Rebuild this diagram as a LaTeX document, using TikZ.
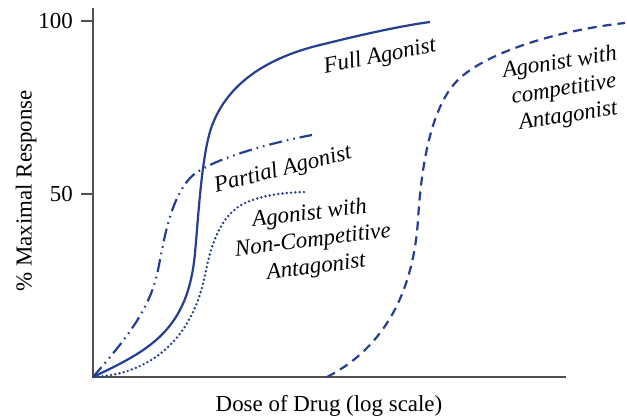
\documentclass[tikz,border=0pt]{standalone}
\usepackage{fontspec}
\setmainfont{Liberation Serif}
\begin{document}
\begin{tikzpicture}[x=1bp,y=-1bp,
  axisline/.style={draw=axisgray,line width=1.6bp},
  curve/.style={draw=curveblue,line width=2.2bp},
  fullcurve/.style={curve},
  partialcurve/.style={curve,dash pattern=on 13bp off 5bp on 1.6bp off 5bp on 1.6bp off 5bp},
  noncompcurve/.style={curve,line width=2.7bp,line cap=round,dash pattern=on 0bp off 4.3bp},
  compcurve/.style={curve,dash pattern=on 9bp off 6bp},
  curvelabel/.style={font=\fontsize{23}{27}\selectfont\itshape,align=center,inner sep=0pt},
  axislabel/.style={font=\fontsize{23}{27}\selectfont,inner sep=0pt}]
\definecolor{axisgray}{RGB}{80,80,80}
\definecolor{curveblue}{RGB}{36,62,145}
\useasboundingbox (0,0) rectangle (627,415);

% axes and ticks
\coordinate (origin) at (93,377);
\coordinate (ytop) at (93,8);
\coordinate (xend) at (566,377);
\coordinate (t100) at (93,21);
\coordinate (t100l) at (81,21);
\coordinate (t50) at (93,194);
\coordinate (t50l) at (81,194);
\draw[axisline] (ytop) -- (origin) -- (xend);
\draw[axisline] (t100l) -- (t100);
\draw[axisline] (t50l) -- (t50);
\node[axislabel,anchor=east] (l100) at (73,21) {100};
\node[axislabel,anchor=east] (l50) at (73,194) {50};
\node[axislabel,rotate=90] (ylab) at (26,191) {\% Maximal Response};
\node[axislabel,anchor=base] (xlab) at (329,411) {Dose of Drug (log scale)};

% full agonist
\draw[fullcurve] (origin)
  .. controls (150,350) and (188,330) .. (195,253)
  .. controls (199,209) and (202,150) .. (213,123)
  .. controls (224,96) and (250,62) .. (320,45)
  .. controls (360,35) and (400,26) .. (430,22);

% partial agonist
\draw[partialcurve] (origin)
  .. controls (125,340) and (150,310) .. (158,270)
  .. controls (164,240) and (170,200) .. (190,178)
  .. controls (205,162) and (260,145) .. (312,135);

% agonist with non-competitive antagonist
\draw[noncompcurve] (94,377)
  .. controls (150,374) and (192,340) .. (205,275)
  .. controls (211,245) and (220,215) .. (245,203)
  .. controls (265,194) and (290,192) .. (308,192);

% agonist with competitive antagonist
\draw[compcurve] (327,377)
  .. controls (370,355) and (412,310) .. (418,220)
  .. controls (421,170) and (430,105) .. (460,78)
  .. controls (490,51) and (560,30) .. (625,23);

% curve labels
\node[curvelabel,rotate=11] (fulllab) at (380,57) {Full Agonist};
\node[curvelabel,rotate=14] (partlab) at (283,170) {Partial Agonist};
\node[curvelabel,rotate=7] (noncomplab) at (313,241) {Agonist with\\Non-Competitive\\Antagonist};
\node[curvelabel,rotate=9] (complab) at (564,90) {Agonist with\\competitive\\Antagonist};
\end{tikzpicture}
\end{document}
